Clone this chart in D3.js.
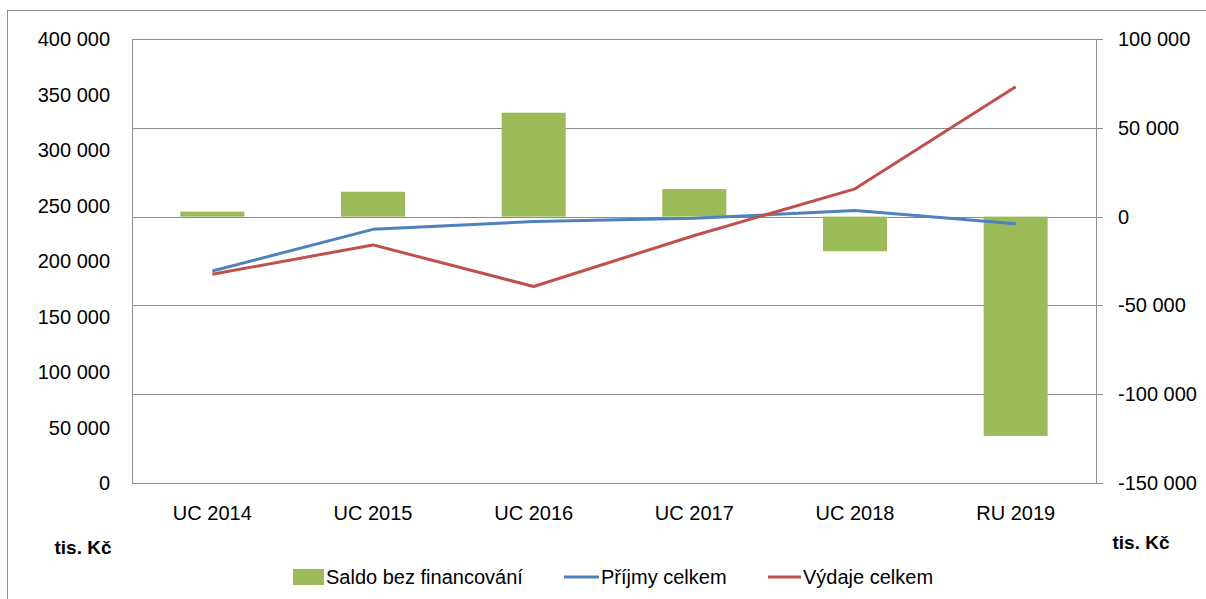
<!DOCTYPE html>
<html>
<head>
<meta charset="utf-8">
<script src="https://cdn.jsdelivr.net/npm/d3@7"></script>
<style>
  html, body { margin: 0; padding: 0; background: #fff; }
  svg { display: block; font-family: "Liberation Sans", Arial, sans-serif; }
</style>
</head>
<body>
<svg id="chart" width="1206" height="599"></svg>
<script>
// data (tis. Kč)
const categories = ["UC 2014", "UC 2015", "UC 2016", "UC 2017", "UC 2018", "RU 2019"];
const saldo  = [2800, 14000, 58500, 15500, -19500, -123500];     // right axis
const prijmy = [191000, 228500, 235500, 238500, 245500, 233500]; // left axis
const vydaje = [188000, 214500, 177000, 223000, 265000, 357000]; // left axis
const leftTicks  = [0, 50000, 100000, 150000, 200000, 250000, 300000, 350000, 400000];
const rightTicks = [-150000, -100000, -50000, 0, 50000, 100000];

const GREEN = "#9BBB59", BLUE = "#4F81BD", RED = "#C0504D", GRID = "#8c8c8c";
const fmt = v => d3.format(",")(v).replace(/,/g, " ").replace("\u2212", "-");

const svg = d3.select("#chart");
const m = { left: 132, right: 1096, top: 39, bottom: 483 };

// outer frame
svg.append("rect")
  .attr("x", 7.5).attr("y", 10.5).attr("width", 1210).attr("height", 600)
  .attr("fill", "none").attr("stroke", "#8c8c8c");

const x = d3.scaleBand().domain(categories).range([m.left, m.right]);
const yL = d3.scaleLinear().domain([0, 400000]).range([m.bottom, m.top]);
const yR = d3.scaleLinear().domain([-150000, 100000]).range([m.bottom, m.top]);

// gridlines (follow right axis)
svg.append("g")
  .selectAll("line").data(rightTicks).enter().append("line")
  .attr("x1", m.left).attr("x2", m.right + 7)
  .attr("y1", d => Math.round(yR(d)) + 0.5).attr("y2", d => Math.round(yR(d)) + 0.5)
  .attr("stroke", GRID);

// axis lines
svg.append("line").attr("x1", m.left + 0.5).attr("x2", m.left + 0.5)
  .attr("y1", m.top).attr("y2", m.bottom).attr("stroke", GRID);
svg.append("line").attr("x1", m.right + 0.5).attr("x2", m.right + 0.5)
  .attr("y1", m.top).attr("y2", m.bottom + 0.5).attr("stroke", GRID);

// bars
const bw = 64;
svg.append("g").attr("fill", GREEN)
  .selectAll("rect").data(saldo).enter().append("rect")
  .attr("x", (d, i) => x(categories[i]) + x.bandwidth() / 2 - bw / 2)
  .attr("width", bw)
  .attr("y", d => yR(Math.max(0, d)))
  .attr("height", d => Math.abs(yR(d) - yR(0)));

// lines
const line = d3.line()
  .x((d, i) => x(categories[i]) + x.bandwidth() / 2)
  .y(d => yL(d));
svg.append("path").datum(prijmy).attr("d", line)
  .attr("fill", "none").attr("stroke", BLUE).attr("stroke-width", 3).attr("stroke-linejoin", "round");
svg.append("path").datum(vydaje).attr("d", line)
  .attr("fill", "none").attr("stroke", RED).attr("stroke-width", 3).attr("stroke-linejoin", "round");

// tick labels
svg.append("g").selectAll("text").data(leftTicks).enter().append("text")
  .attr("x", 110).attr("y", d => yL(d)).attr("dy", "0.35em")
  .attr("text-anchor", "end").attr("font-size", 20).attr("fill", "#000")
  .text(fmt);

svg.append("g").selectAll("text").data(rightTicks).enter().append("text")
  .attr("x", 1118).attr("y", d => yR(d)).attr("dy", "0.35em")
  .attr("text-anchor", "start").attr("font-size", 20).attr("fill", "#000")
  .text(fmt);

svg.append("g").selectAll("text").data(categories).enter().append("text")
  .attr("x", d => x(d) + x.bandwidth() / 2).attr("y", 520)
  .attr("text-anchor", "middle").attr("font-size", 20).attr("fill", "#000")
  .text(d => d);

// units
svg.append("text").attr("x", 83).attr("y", 554).attr("text-anchor", "middle")
  .attr("font-size", 19).attr("font-weight", "bold").text("tis. Kč");
svg.append("text").attr("x", 1141).attr("y", 549).attr("text-anchor", "middle")
  .attr("font-size", 19).attr("font-weight", "bold").text("tis. Kč");

// legend
const lg = svg.append("g").attr("font-size", 20);
lg.append("rect").attr("x", 293).attr("y", 569).attr("width", 31).attr("height", 16).attr("fill", GREEN);
lg.append("text").attr("x", 326).attr("y", 584).text("Saldo bez financování");
lg.append("line").attr("x1", 564).attr("x2", 599).attr("y1", 577).attr("y2", 577)
  .attr("stroke", BLUE).attr("stroke-width", 3);
lg.append("text").attr("x", 601).attr("y", 584).text("Příjmy celkem");
lg.append("line").attr("x1", 768).attr("x2", 801).attr("y1", 577).attr("y2", 577)
  .attr("stroke", RED).attr("stroke-width", 3);
lg.append("text").attr("x", 803).attr("y", 584).text("Výdaje celkem");
</script>
</body>
</html>
